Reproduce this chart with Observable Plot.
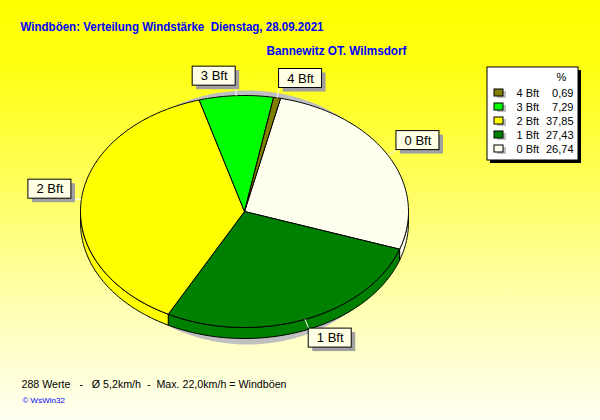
<!DOCTYPE html>
<html><head><meta charset="utf-8">
<script src="https://cdn.jsdelivr.net/npm/d3@7"></script>
<script src="https://cdn.jsdelivr.net/npm/@observablehq/plot@0.6"></script>
<style>
body{margin:0;}
#wrap{position:relative;width:600px;height:420px;overflow:hidden;
 background:linear-gradient(to bottom,#ffff00 0%,#ffff10 15%,#ffff60 45%,#ffffb8 75%,#fffff2 100%);}
#chart svg{display:block;white-space:pre;}
</style></head><body>
<div id="wrap"><div id="chart"></div></div>
<script>
// ---- data ----
const categories = ["0 Bft", "1 Bft", "2 Bft", "3 Bft", "4 Bft"];
const percents   = [26.74, 27.43, 37.85, 7.29, 0.69];
const colors     = ["#fffff0", "#008000", "#ffff00", "#00ff00", "#808000"];
const legendOrder = ["4 Bft", "3 Bft", "2 Bft", "1 Bft", "0 Bft"];
const title    = "Windböen: Verteilung Windstärke  Dienstag, 28.09.2021";
const subtitle = "Bannewitz OT. Wilmsdorf";
const footer   = "288 Werte   -   Ø 5,2km/h  -  Max. 22,0km/h = Windböen";
const credit   = "© WsWin32";

// ---- geometry (style) ----
const cx = 244, cy = 211, rx = 164, ry = 116, depth = 11, start = 12.7;
const font = "'Liberation Sans', Arial, sans-serif";
const rad = d => d * Math.PI / 180;
const pt = (deg, dy = 0) => ({x: cx + rx * Math.sin(rad(deg)), y: cy - ry * Math.cos(rad(deg)) + dy});
function arc(a0, a1, dy = 0) {
  const n = Math.max(2, Math.ceil(Math.abs(a1 - a0)));
  return d3.range(n + 1).map(i => pt(a0 + (a1 - a0) * i / n, dy));
}
let cum = 0;
const slices = categories.map((c, i) => {
  const a0 = start + cum * 3.6; cum += percents[i]; const a1 = start + cum * 3.6;
  return {cat: c, color: colors[i], value: percents[i], a0, a1, mid: (a0 + a1) / 2};
});

const marks = [];
// shadow
const shadow = d3.range(0, 361, 2).map(d => ({x: cx + 3 + 152 * Math.sin(rad(d)), y: cy + 6 - 127 * Math.cos(rad(d))}));
marks.push(Plot.line(shadow, {x: "x", y: "y", fill: "#c0c0c0", stroke: "none"}));
// sides
for (const s of slices) {
  for (const k of [0, 1]) {
    const lo = Math.max(s.a0, 90 + 360 * k), hi = Math.min(s.a1, 270 + 360 * k);
    if (hi > lo) {
      const top = arc(lo, hi), bot = arc(hi, lo, depth);
      const poly = [...top, ...bot, top[0]];
      marks.push(Plot.line(poly, {x: "x", y: "y", fill: s.color, stroke: "black", strokeWidth: 1, strokeLinejoin: "round"}));
    }
  }
}
// tops
for (const s of slices) {
  const poly = [{x: cx, y: cy}, ...arc(s.a0, s.a1), {x: cx, y: cy}];
  marks.push(Plot.line(poly, {x: "x", y: "y", fill: s.color, stroke: "black", strokeWidth: 1, strokeLinejoin: "round"}));
}
// labels
const bw = 43, bh = 19;
const labels = slices.map(s => {
  const e = pt(s.mid);
  const sn = Math.sin(rad(s.mid)), cs = Math.cos(rad(s.mid));
  const ax = e.x + sn * 10, ay = e.y - cs * 10;
  const x1 = sn >= 0 ? ax : ax - bw;
  const y1 = cs >= 0 ? ay - bh : ay;
  return {cat: s.cat, ex: e.x, ey: e.y, ax, ay, x1, y1, x2: x1 + bw, y2: y1 + bh};
});
marks.push(Plot.link(labels, {x1: "ex", y1: "ey", x2: "ax", y2: "ay", stroke: "white", strokeWidth: 1}));
marks.push(Plot.rect(labels, {x1: d => d.x1 + 4, x2: d => d.x2 + 4, y1: d => d.y1 + 4, y2: d => d.y2 + 4, fill: "#a0a0a0"}));
marks.push(Plot.rect(labels, {x1: "x1", x2: "x2", y1: "y1", y2: "y2", fill: "#ffffe6", stroke: "black", strokeWidth: 1}));
marks.push(Plot.text(labels, {x: d => (d.x1 + d.x2) / 2, y: d => (d.y1 + d.y2) / 2, text: "cat", fontSize: 13, fill: "black", fontFamily: font}));

// legend
const L = {x1: 487, x2: 578, y1: 67, y2: 160};
const rows = legendOrder.map((c, i) => {
  const s = slices.find(d => d.cat === c);
  return {cat: c, color: s.color, val: s.value.toFixed(2).replace(".", ","), y: L.y1 + 26 + i * 14};
});
marks.push(Plot.rect([L], {x1: d => d.x1 + 3, x2: d => d.x2 + 3, y1: d => d.y1 + 3, y2: d => d.y2 + 3, fill: "black"}));
marks.push(Plot.rect([L], {x1: "x1", x2: "x2", y1: "y1", y2: "y2", fill: "white", stroke: "black", strokeWidth: 1}));
marks.push(Plot.text([{t: "%"}], {x: L.x2 - 17, y: L.y1 + 10, text: "t", fontSize: 11, fontFamily: font, fill: "black"}));
marks.push(Plot.rect(rows, {x1: L.x1 + 10, x2: L.x1 + 19, y1: d => d.y - 2, y2: d => d.y + 5, fill: "#c0c0c0"}));
marks.push(Plot.rect(rows, {x1: L.x1 + 7, x2: L.x1 + 16, y1: d => d.y - 4, y2: d => d.y + 3, fill: "color", stroke: "black", strokeWidth: 1}));
marks.push(Plot.text(rows, {x: L.x1 + 29, y: "y", text: "cat", textAnchor: "start", fontSize: 11, fontFamily: font, fill: "black"}));
marks.push(Plot.text(rows, {x: L.x2 - 5, y: "y", text: "val", textAnchor: "end", fontSize: 11, fontFamily: font, fill: "black"}));

// titles / footer
marks.push(Plot.text([title], {x: 20, y: 30, text: d => d, textAnchor: "start", lineAnchor: "bottom", fontSize: 13, fontWeight: "bold", fill: "#0000ff", fontFamily: font}));
marks.push(Plot.text([subtitle], {x: 266, y: 54, text: d => d, textAnchor: "start", lineAnchor: "bottom", fontSize: 13, fontWeight: "bold", fill: "#0000ff", fontFamily: font}));
marks.push(Plot.text([footer], {x: 21, y: 387, text: d => d, textAnchor: "start", lineAnchor: "bottom", fontSize: 11, fill: "black", fontFamily: font}));
marks.push(Plot.text([credit], {x: 22, y: 402, text: d => d, textAnchor: "start", lineAnchor: "bottom", fontSize: 8, fill: "#0000ff", fontFamily: font}));

const chart = Plot.plot({
  width: 600, height: 420, margin: 0,
  x: {type: "identity", axis: null},
  y: {type: "identity", axis: null},
  style: {background: "transparent", overflow: "visible"},
  marks
});
// condense long texts to the reference widths
const widths = new Map([[title, 303], [subtitle, 140], [footer, 265]]);
for (const t of chart.querySelectorAll("text")) {
  const w = widths.get(t.textContent);
  if (w) { t.setAttribute("textLength", w); t.setAttribute("lengthAdjust", "spacingAndGlyphs"); }
}
document.getElementById("chart").appendChild(chart);
</script>
</body></html>
